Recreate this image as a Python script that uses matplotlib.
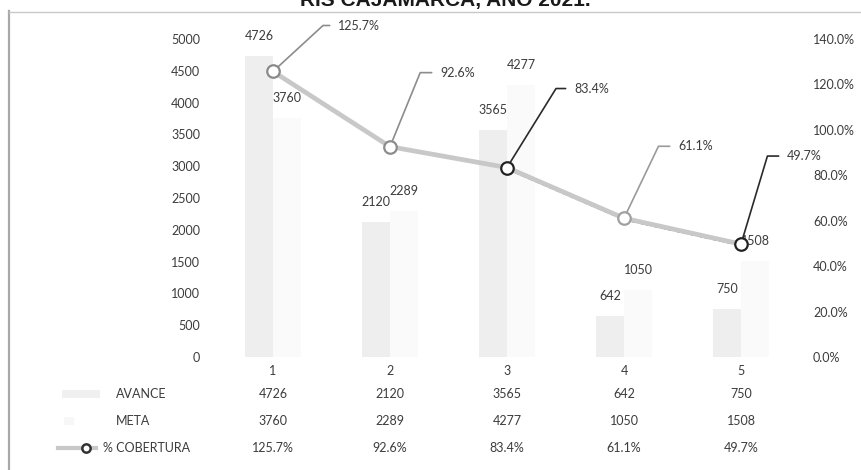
import matplotlib
matplotlib.use("Agg")
import matplotlib.pyplot as plt
import matplotlib.transforms as mtransforms
from matplotlib.lines import Line2D
from matplotlib.patches import Rectangle
import numpy as np

plt.rcParams['font.family'] = ['Lato', 'DejaVu Sans']

# ---------------- data ----------------
categories = ['1', '2', '3', '4', '5']
avance = [4726, 2120, 3565, 642, 750]
meta = [3760, 2289, 4277, 1050, 1508]
cobertura = [1.257, 0.926, 0.834, 0.611, 0.497]
left_ticks = [0, 500, 1000, 1500, 2000, 2500, 3000, 3500, 4000, 4500, 5000]
right_ticks = [0.0, 0.2, 0.4, 0.6, 0.8, 1.0, 1.2, 1.4]
title = 'RIS CAJAMARCA, AÑO 2021.'
row_names = ['AVANCE', 'META', '% COBERTURA']

# ---------------- styling / layout ----------------
W, H = 862, 470
TXT = '#3c3c3c'
FS = 9
# leader label offsets (points) and leader angle (deg) per point
lab_off = [(46.8, 33.1), (36.0, 53.3), (48.2, 56.9), (38.9, 51.8), (33.1, 63.4)]
lab_ang = [42.6, 67.8, 58.2, 64.4, 73.3]
lead_col = ['#8c8c8c', '#8c8c8c', '#2a2a2a', '#9a9a9a', '#2a2a2a']
mark_col = ['#8a8a8a', '#8c8c8c', '#222222', '#a0a0a0', '#222222']

fig = plt.figure(figsize=(W / 100, H / 100), dpi=100)
fig.patch.set_facecolor('white')

ax = fig.add_axes([214.5 / W, 1 - 357 / H, 585 / W, 318 / H])
ax2 = ax.twinx()

x = np.arange(1, len(categories) + 1)
bw = 0.24
ax.bar(x - 0.12, avance, bw, color='#eeeeee', zorder=1)
ax.bar(x + 0.12, meta, bw, color='#fafafa', zorder=1)

ax.set_xlim(0.5, len(categories) + 0.5)
ax.set_ylim(0, 5000)
ax.set_yticks(left_ticks)
ax.set_yticklabels([str(v) for v in left_ticks])
ax.set_xticks(x)
ax.set_xticklabels(categories)
ax.tick_params(axis='y', length=0, pad=10.4, labelsize=FS, labelcolor=TXT)
ax.tick_params(axis='x', length=0, pad=5.5, labelsize=FS, labelcolor=TXT)
for s in ax.spines.values():
    s.set_visible(False)

# bar labels
for xi, a, m in zip(x, avance, meta):
    ax.annotate(str(a), (xi - 0.12, a), xytext=(0, 14.5), textcoords='offset points',
                ha='center', va='center', fontsize=FS, color=TXT)
    ax.annotate(str(m), (xi + 0.12, m), xytext=(0, 14.5), textcoords='offset points',
                ha='center', va='center', fontsize=FS, color=TXT)

# secondary axis
ax2.set_ylim(0, 1.4)
ax2.set_yticks(right_ticks)
ax2.set_yticklabels(['%.1f%%' % (v * 100) for v in right_ticks])
ax2.tick_params(axis='y', length=0, pad=9.7, labelsize=FS, labelcolor=TXT)
for s in ax2.spines.values():
    s.set_visible(False)

off = mtransforms.offset_copy(ax2.transData, fig=fig, x=0, y=-1.5, units='dots')
ax2.plot(x[2:], cobertura[2:], ls=(0, (4, 2)), color='#333333', lw=0.9,
         transform=off, zorder=2)
ax2.plot(x, cobertura, color='#c8c8c8', lw=3.4, solid_capstyle='round', zorder=3)
for xi, c, mc in zip(x, cobertura, mark_col):
    ax2.plot([xi], [c], marker='o', ms=9, mfc='white', mec=mc, mew=1.6, zorder=5)

for xi, c, (dx, dy), ang, lc in zip(x, cobertura, lab_off, lab_ang, lead_col):
    ax2.annotate('%.1f%%' % (c * 100), (xi, c), xytext=(dx, dy), textcoords='offset points',
                 ha='left', va='center', fontsize=FS, color=TXT,
                 arrowprops=dict(arrowstyle='-', color=lc, lw=1.2,
                                 connectionstyle='angle,angleA=0,angleB=%g,rad=0' % ang,
                                 relpos=(0, 0.5), shrinkA=4, shrinkB=5))

# ---------------- data table ----------------
bt = mtransforms.blended_transform_factory(ax.transData, fig.transFigure)
row_y = [1 - 394 / H, 1 - 421 / H, 1 - 448 / H]
rows = [[str(v) for v in avance], [str(v) for v in meta],
        ['%.1f%%' % (v * 100) for v in cobertura]]
for ry, vals in zip(row_y, rows):
    for xi, v in zip(x, vals):
        fig.text(xi, ry, v, transform=bt, ha='center', va='center', fontsize=FS, color=TXT)

label_x = [116 / W, 116 / W, 103 / W]
for lx, ry, name in zip(label_x, row_y, row_names):
    fig.text(lx, ry, name, ha='left', va='center', fontsize=FS, color=TXT)

# legend keys in table
fig.add_artist(Rectangle((62 / W, 1 - 398 / H), 38 / W, 8 / H, transform=fig.transFigure,
                         facecolor='#f0f0f0', edgecolor='none'))
fig.add_artist(Rectangle((64 / W, 1 - 425 / H), 10 / W, 8 / H, transform=fig.transFigure,
                         facecolor='#f7f7f7', edgecolor='none'))
fig.add_artist(Line2D([58 / W, 96 / W], [1 - 448 / H] * 2, transform=fig.transFigure,
                      color='#c8c8c8', lw=3.0))
fig.add_artist(Line2D([86 / W], [1 - 448 / H], transform=fig.transFigure, marker='o',
                      ms=6, mfc='white', mec='#333333', mew=1.8))

# chart border (left and top)
fig.add_artist(Line2D([9 / W, 9 / W], [1 - 11 / H, 0], transform=fig.transFigure,
                      color='#a8a8a8', lw=1.6))
fig.add_artist(Line2D([9 / W, 1], [1 - 11.5 / H] * 2, transform=fig.transFigure,
                      color='#c8c8c8', lw=1.0))

# title (cut at top, as in the reference)
fig.text(445 / W, 1 - 6 / H, title, ha='center', va='baseline', fontsize=15,
         fontweight='bold', family=['Liberation Sans', 'DejaVu Sans'], color='#1a1a1a')

fig.savefig('out.png', dpi=100, facecolor='white')
